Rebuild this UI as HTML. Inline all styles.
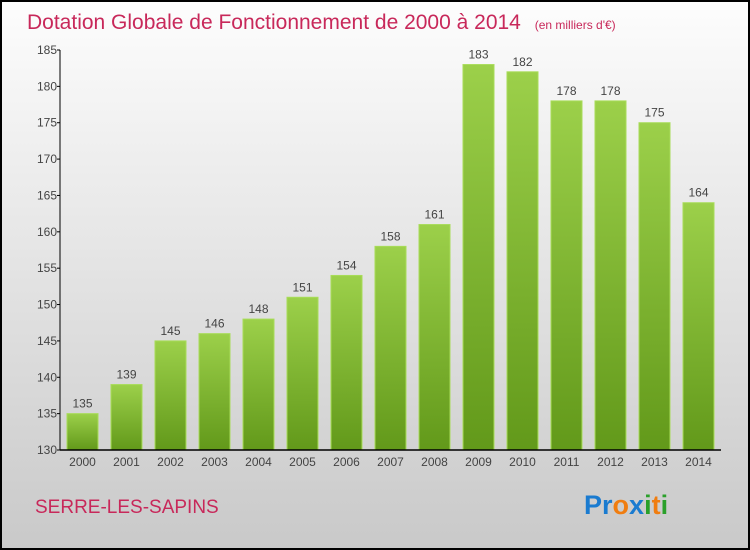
<!DOCTYPE html>
<html><head><meta charset="utf-8"><style>
body{margin:0;width:750px;height:550px;overflow:hidden}
svg{display:block;font-family:"Liberation Sans",sans-serif}
</style></head><body>
<svg id="c" width="750" height="550">
<defs>
<linearGradient id="bg" x1="0" y1="0" x2="0" y2="1"><stop offset="0" stop-color="#fdfdfd"/><stop offset="1" stop-color="#c9c9c9"/></linearGradient>
<linearGradient id="bar" x1="0" y1="0" x2="0" y2="1"><stop offset="0" stop-color="#9cd04a"/><stop offset="1" stop-color="#62991a"/></linearGradient>
</defs>
<rect x="1" y="1" width="748" height="548" fill="url(#bg)" stroke="#000" stroke-width="2"/>
<text x="27" y="29" font-size="21" fill="#c8285a">Dotation Globale de Fonctionnement de 2000 à 2014 <tspan font-size="12" dx="8">(en milliers d'€)</tspan></text>
<text x="35" y="513" font-size="19" fill="#c8285a">SERRE-LES-SAPINS</text>
<text x="584" y="514" font-size="27" font-weight="bold"><tspan fill="#1a7bd0">Pr</tspan><tspan fill="#f07d10">o</tspan><tspan fill="#1a7bd0">x</tspan><tspan fill="#2aa02a">i</tspan><tspan fill="#f07d10">t</tspan><tspan fill="#2aa02a">i</tspan></text>
<g id="plot"></g>
</svg>
<script>
const years=["2000","2001","2002","2003","2004","2005","2006","2007","2008","2009","2010","2011","2012","2013","2014"];
const values=[135,139,145,146,148,151,154,158,161,183,182,178,178,175,164];
const yTicks=[130,135,140,145,150,155,160,165,170,175,180,185];
const yMin=130,yMax=185,plotTop=50,plotBottom=450,plotLeft=60;
const y=v=>plotBottom-(v-yMin)/(yMax-yMin)*(plotBottom-plotTop);
const x=i=>82.5+i*44;
const g=document.getElementById('plot');
const NS="http://www.w3.org/2000/svg";
function mk(t,a){const e=document.createElementNS(NS,t);for(const k in a)e.setAttribute(k,a[k]);g.appendChild(e);return e;}
values.forEach((v,i)=>{
 const r=mk('rect',{x:x(i)-15.5,y:y(v),width:31,height:plotBottom-y(v),fill:'url(#bar)',stroke:'#a8dc58','stroke-width':1});
 
 
 const t=mk('text',{x:x(i),y:y(v)-6,'text-anchor':'middle','font-size':12,fill:'#444'});
 t.textContent=v;
 
 
 const l=mk('text',{x:x(i),y:466,'text-anchor':'middle','font-size':12,fill:'#444'});
 l.textContent=years[i];
 
 
});
yTicks.forEach(v=>{
 const tk=mk('line',{x1:plotLeft-3,x2:plotLeft,y1:y(v),y2:y(v),stroke:'#000'});
 
 
 const t=mk('text',{x:plotLeft-3,y:y(v)+4,'text-anchor':'end','font-size':12,fill:'#444'});
 t.textContent=v;
 
 
});
const ya=mk('line',{x1:plotLeft,x2:plotLeft,y1:plotTop,y2:plotBottom,stroke:'#000','stroke-width':1});


const xa=mk('line',{x1:plotLeft,x2:721,y1:plotBottom,y2:plotBottom,stroke:'#000','stroke-width':1.5});


</script>
</body></html>
